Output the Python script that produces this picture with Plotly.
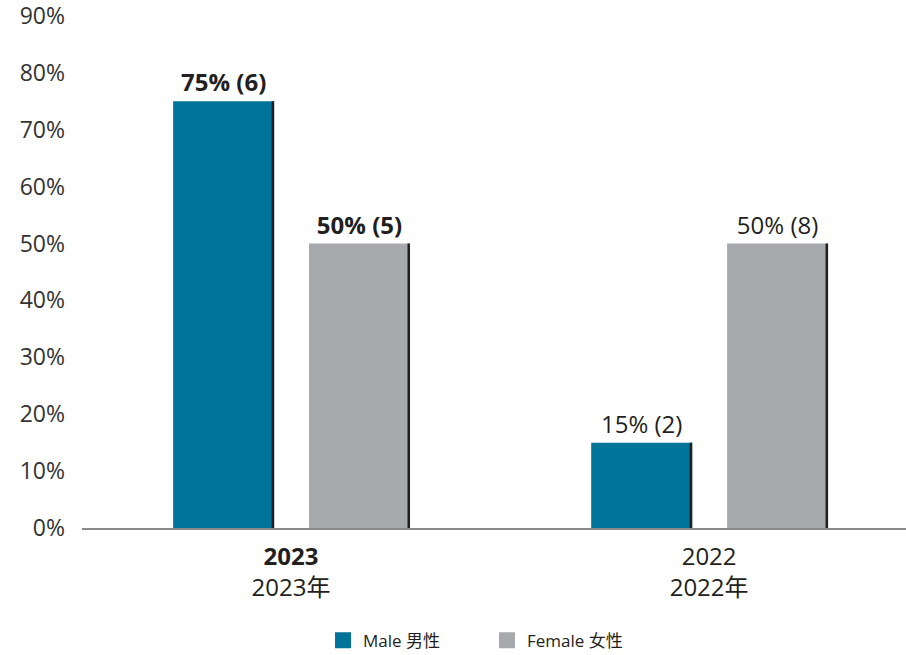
import plotly.graph_objects as go

categories = ["2023", "2022"]
category_labels = ["<b>2023</b><br>2023年", "2022<br>2022年"]
male_values = [75, 15]
male_counts = [6, 2]
female_values = [50, 50]
female_counts = [5, 8]
bold_flags = [True, False]
tick_vals = [0, 10, 20, 30, 40, 50, 60, 70, 80, 90]
tick_text = [f"{v}%" for v in tick_vals]

MALE = "#007399"
FEMALE = "#A8A9AD"
EDGE = "#231F20"
TXT = "#231F20"

def labels(vals, counts):
    out = []
    for v, c, b in zip(vals, counts, bold_flags):
        s = f"{v}% ({c})"
        out.append(f"<b>{s}</b>" if b else s)
    return out

W = 0.2416
OFF_M = -0.282
OFF_F = 0.043
EW = 0.006

fig = go.Figure()
fig.add_trace(go.Bar(x=categories, y=male_values, name="Male 男性", marker_color=MALE,
                     marker_line_width=0, width=W, offset=OFF_M, showlegend=False,
                     text=labels(male_values, male_counts), textposition="outside",
                     textfont=dict(size=24, color=TXT), cliponaxis=False))
fig.add_trace(go.Bar(x=categories, y=female_values, name="Female 女性", marker_color=FEMALE,
                     marker_line_width=0, width=W, offset=OFF_F, showlegend=False,
                     text=labels(female_values, female_counts), textposition="outside",
                     textfont=dict(size=24, color=TXT), cliponaxis=False))
# dark right edges of bars
fig.add_trace(go.Bar(x=categories, y=male_values, marker_color=EDGE, marker_line_width=0,
                     width=EW, offset=OFF_M + W - EW, showlegend=False, hoverinfo="skip"))
fig.add_trace(go.Bar(x=categories, y=female_values, marker_color=EDGE, marker_line_width=0,
                     width=EW, offset=OFF_F + W - EW, showlegend=False, hoverinfo="skip"))
# legend entries (one legend each, so they can be placed independently)
for nm, col, lg in [("Male 男性", MALE, "legend"), ("Female 女性", FEMALE, "legend2")]:
    fig.add_trace(go.Scatter(x=[None], y=[None], mode="markers", name=nm, legend=lg,
                             marker=dict(symbol="square", size=17, color=col,
                                         line=dict(color=EDGE, width=0))))

leg_common = dict(orientation="h", xanchor="left", yref="container", y=0.022,
                  yanchor="middle", font=dict(size=17, color=TXT), itemwidth=30,
                  bgcolor="rgba(0,0,0,0)")

fig.update_layout(
    width=906, height=655,
    margin=dict(l=82, r=0, t=0, b=127, autoexpand=False),
    paper_bgcolor="white", plot_bgcolor="white",
    barmode="overlay",
    font=dict(family="Open Sans, Noto Sans CJK SC, sans-serif", color=TXT),
    showlegend=True,
    legend=dict(x=0.2925, **leg_common),
    legend2=dict(x=0.4915, **leg_common),
    xaxis=dict(type="category", range=[-0.5, 1.471], tickmode="array",
               tickvals=categories, ticktext=category_labels,
               tickfont=dict(size=24, color=TXT), showline=True, linecolor="#8A8A8A",
               linewidth=1.5, ticks="", showgrid=False, zeroline=False,
               ticklabelstandoff=6),
    yaxis=dict(range=[0, 92.8], tickmode="array", tickvals=tick_vals, ticktext=tick_text,
               showgrid=False, zeroline=False, showline=False, ticklabeloverflow="allow",
               tickfont=dict(size=23, color="#333333"), ticklabelstandoff=16),
)

fig.write_html("out.html")
